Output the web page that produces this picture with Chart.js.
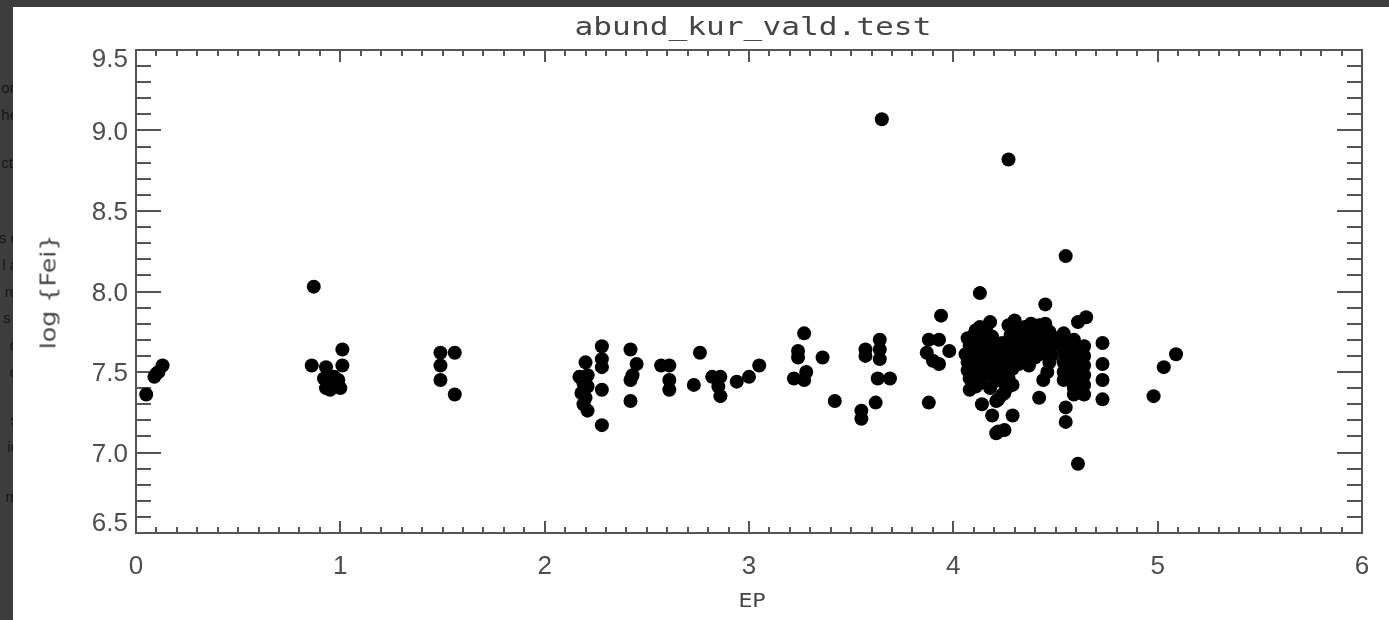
<!DOCTYPE html>
<html>
<head>
<meta charset="utf-8">
<title>abund_kur_vald.test</title>
<script src="https://cdn.jsdelivr.net/npm/chart.js@4.4.1/dist/chart.umd.min.js"></script>
<style>
  html, body { margin: 0; padding: 0; width: 1389px; height: 620px; overflow: hidden; background: #3d3d3d; }
  #side { position: absolute; left: 0; top: 0; width: 13px; height: 620px; overflow: hidden; }
  #side div { position: absolute; right: -5px; font: 15px "Liberation Sans", sans-serif; line-height: 16px; color: #161616; white-space: nowrap; }
  #panel { position: absolute; left: 13px; top: 7px; width: 1376px; height: 613px; background: #ffffff; }
  #chart { position: absolute; left: 0; top: 0; }
  .lbl { position: absolute; white-space: nowrap; color: #454545; line-height: 1; }
  #title { left: 740px; top: 20px; font: 24px "DejaVu Sans Mono", monospace; transform: translate(-50%, -50%) scaleX(1.3); }
  #xlabel { left: 739px; top: 593px; font: 20px "DejaVu Sans", sans-serif; transform: translate(-50%, -50%) scaleX(1.1); }
  #ylabel { left: 35px; top: 285px; font: 22px "DejaVu Sans", sans-serif; transform: translate(-50%, -50%) rotate(-90deg) scaleX(1.15); }
</style>
</head>
<body>
<div id="side">
  <div style="top:80px">on</div>
  <div style="top:107px">he</div>
  <div style="top:155px">ctr</div>
  <div style="top:230px">s c</div>
  <div style="top:257px">l a</div>
  <div style="top:284px">ro</div>
  <div style="top:310px">s i</div>
  <div style="top:337px">d</div>
  <div style="top:364px">o</div>
  <div style="top:412px">s</div>
  <div style="top:439px">ic</div>
  <div style="top:489px">m</div>
</div>
<div id="panel">
  <canvas id="chart" width="1376" height="613"></canvas>
  <div class="lbl" id="title">abund_kur_vald.test</div>
  <div class="lbl" id="xlabel">EP</div>
  <div class="lbl" id="ylabel">log {Fei}</div>
</div>
<script>
// Excitation potential (eV) of each Fe I line
const epValues = [
  0.05, 0.09, 0.10, 0.11, 0.13,
  0.87, 0.86, 0.93, 1.01, 1.01, 0.92, 0.97, 0.93, 1.00, 0.95, 0.97, 0.99,
  1.49, 1.56, 1.49, 1.49, 1.56,
  2.28, 2.28, 2.28, 2.20, 2.17, 2.21, 2.28, 2.18, 2.21, 2.19, 2.21, 2.28, 2.19, 2.20,
  2.42, 2.45, 2.43, 2.42, 2.42,
  2.57, 2.61, 2.61, 2.61,
  2.76, 2.73, 2.82, 2.86, 2.85, 2.86, 2.94, 3.00, 3.05,
  3.27, 3.24, 3.24, 3.22, 3.27, 3.28, 3.36, 3.42,
  3.65, 3.55, 3.55, 3.62, 3.57, 3.57, 3.64, 3.64, 3.64, 3.63, 3.69,
  3.88, 3.88, 3.93, 3.87, 3.98, 3.93, 3.94, 3.90,
  4.27, 4.55, 4.13, 4.45,
  4.18, 4.30, 4.38, 4.45,
  4.11, 4.16, 4.29, 4.34, 4.40, 4.47,
  4.07, 4.13, 4.19, 4.32, 4.38, 4.44, 4.50,
  4.08, 4.14, 4.21, 4.27, 4.33, 4.39, 4.45, 4.51,
  4.06, 4.12, 4.18, 4.24, 4.30, 4.35, 4.42, 4.48,
  4.07, 4.13, 4.19, 4.25, 4.32, 4.47,
  4.07, 4.12, 4.18, 4.23, 4.29,
  4.08, 4.14, 4.21, 4.27,
  4.11, 4.18, 4.29,
  4.13, 4.27, 4.35, 4.42,
  4.10, 4.16, 4.28, 4.35, 4.41, 4.47,
  4.11, 4.17, 4.24, 4.30, 4.36, 4.42, 4.48,
  4.09, 4.15, 4.21, 4.27, 4.33, 4.39, 4.45,
  4.10, 4.16, 4.22, 4.28, 4.34, 4.40,
  4.09, 4.15, 4.21, 4.26,
  4.10, 4.17, 4.24,
  4.13, 4.20, 4.25,
  4.08, 4.14, 4.19, 4.22, 4.22, 4.25, 4.21, 4.29, 4.26, 4.25, 4.21, 4.37, 4.46, 4.44, 4.47, 4.37, 4.42, 4.27, 4.24, 4.31, 4.33,
  4.54, 4.54, 4.54, 4.54, 4.54, 4.54,
  4.59, 4.59, 4.59, 4.59, 4.59, 4.59, 4.59,
  4.64, 4.64, 4.64, 4.64, 4.64, 4.64,
  4.55, 4.55, 4.61, 4.65, 4.61,
  4.73, 4.73, 4.73, 4.73, 5.09, 5.03, 4.98
];

// Abundance log eps(Fe I) derived from each line
const logFeValues = [
  7.36, 7.47, 7.49, 7.50, 7.54,
  8.03, 7.54, 7.53, 7.54, 7.64, 7.46, 7.47, 7.40, 7.40, 7.39, 7.43, 7.45,
  7.62, 7.62, 7.54, 7.45, 7.36,
  7.66, 7.58, 7.53, 7.56, 7.47, 7.48, 7.39, 7.37, 7.41, 7.30, 7.26, 7.17, 7.43, 7.34,
  7.64, 7.55, 7.48, 7.45, 7.32,
  7.54, 7.54, 7.45, 7.39,
  7.62, 7.42, 7.47, 7.47, 7.41, 7.35, 7.44, 7.47, 7.54,
  7.74, 7.63, 7.59, 7.46, 7.45, 7.50, 7.59, 7.32,
  9.07, 7.26, 7.21, 7.31, 7.64, 7.60, 7.70, 7.64, 7.58, 7.46, 7.46,
  7.31, 7.70, 7.70, 7.62, 7.63, 7.55, 7.85, 7.57,
  8.82, 8.22, 7.99, 7.92,
  7.81, 7.82, 7.80, 7.80,
  7.76, 7.77, 7.75, 7.76, 7.77, 7.75,
  7.71, 7.70, 7.72, 7.71, 7.70, 7.72, 7.71,
  7.66, 7.67, 7.65, 7.66, 7.67, 7.65, 7.66, 7.67,
  7.61, 7.60, 7.62, 7.61, 7.60, 7.62, 7.61, 7.60,
  7.56, 7.55, 7.57, 7.56, 7.55, 7.56,
  7.51, 7.52, 7.50, 7.51, 7.52,
  7.46, 7.47, 7.45, 7.46,
  7.41, 7.40, 7.42,
  7.78, 7.79, 7.78, 7.79,
  7.73, 7.74, 7.73, 7.72, 7.73, 7.74,
  7.68, 7.69, 7.68, 7.69, 7.68, 7.69, 7.68,
  7.63, 7.64, 7.63, 7.64, 7.63, 7.64, 7.63,
  7.58, 7.59, 7.58, 7.59, 7.58, 7.59,
  7.53, 7.54, 7.53, 7.54,
  7.48, 7.49, 7.48,
  7.43, 7.44, 7.43,
  7.39, 7.30, 7.23, 7.33, 7.13, 7.14, 7.12, 7.23, 7.45, 7.37, 7.32, 7.54, 7.50, 7.45, 7.70, 7.76, 7.34, 7.41, 7.36, 7.62, 7.70,
  7.74, 7.68, 7.62, 7.56, 7.50, 7.45,
  7.70, 7.64, 7.58, 7.52, 7.46, 7.40, 7.36,
  7.66, 7.60, 7.54, 7.48, 7.42, 7.36,
  7.28, 7.19, 6.93, 7.84, 7.81,
  7.68, 7.55, 7.45, 7.33, 7.61, 7.53, 7.35
];

const xTickLabels = ['0', '1', '2', '3', '4', '5', '6'];
const yTickLabels = ['6.5', '7.0', '7.5', '8.0', '8.5', '9.0', '9.5'];

const points = epValues.map((ep, i) => ({ x: ep, y: logFeValues[i] }));

const axisColor = '#555555';
const tickFont = { family: '"Liberation Sans", Arial, sans-serif', size: 26 };

// Closed box with inward major/minor tick marks on all four sides
const boxTicks = {
  id: 'boxTicks',
  beforeDraw(chart) {
    // the end labels of the ordinate sit just inside the box
    const items = chart.scales.y.getLabelItems();
    const last = items.length - 1;
    items.forEach((it, i) => {
      let dy = 2;
      if (i === 0) dy = -9;
      if (i === last) dy = 10;
      it.options.translation[1] += dy;
    });
  },
  beforeDatasetsDraw(chart) {
    const { ctx, chartArea, scales } = chart;
    const { left, right, top, bottom } = chartArea;
    const xs = scales.x, ys = scales.y;
    ctx.save();
    ctx.strokeStyle = axisColor;
    ctx.lineWidth = 2;
    ctx.strokeRect(left, top, right - left, bottom - top);
    ctx.beginPath();
    for (let i = 0; i <= 60; i++) {
      const px = Math.round(xs.getPixelForValue(i / 10));
      const len = i % 10 === 0 ? 12 : 6;
      ctx.moveTo(px, bottom); ctx.lineTo(px, bottom - len);
      ctx.moveTo(px, top); ctx.lineTo(px, top + len);
    }
    for (let j = 0; j <= 30; j++) {
      const py = Math.round(ys.getPixelForValue(6.5 + j / 10));
      const len = j % 5 === 0 ? 25 : 15;
      ctx.moveTo(left, py); ctx.lineTo(left + len, py);
      ctx.moveTo(right, py); ctx.lineTo(right - len, py);
    }
    ctx.stroke();
    ctx.restore();
  }
};

new Chart(document.getElementById('chart'), {
  type: 'scatter',
  data: {
    datasets: [{
      data: points,
      pointRadius: 7,
      pointHoverRadius: 7,
      pointBackgroundColor: '#000000',
      pointBorderWidth: 0,
      borderWidth: 0
    }]
  },
  options: {
    responsive: false,
    animation: false,
    devicePixelRatio: 1,
    layout: { padding: { left: 0, top: 43, right: 27, bottom: 0 } },
    plugins: { legend: { display: false }, tooltip: { enabled: false }, title: { display: false } },
    scales: {
      x: {
        type: 'linear',
        min: 0, max: 6,
        afterFit(s) { s.height = 87; },
        grid: { display: false, drawTicks: false },
        border: { display: false },
        ticks: {
          stepSize: 1, padding: 18, maxRotation: 0, autoSkip: false,
          color: '#4d4d4d', font: tickFont,
          callback: (v, i) => xTickLabels[i]
        }
      },
      y: {
        type: 'linear',
        min: 6.5, max: 9.5,
        afterFit(s) { s.width = 123; },
        grid: { display: false, drawTicks: false },
        border: { display: false },
        ticks: {
          stepSize: 0.5, padding: 8, autoSkip: false,
          color: '#4d4d4d', font: tickFont,
          callback: (v, i) => yTickLabels[i]
        }
      }
    }
  },
  plugins: [boxTicks]
});
</script>
</body>
</html>
